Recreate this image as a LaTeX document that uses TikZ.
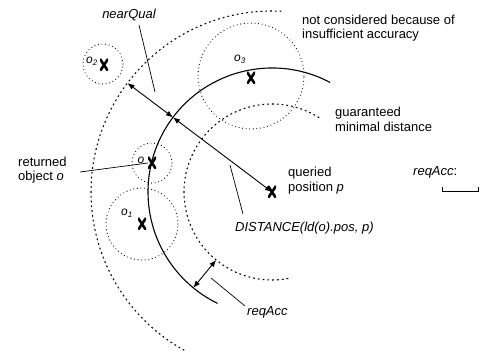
\documentclass[tikz,border=0pt]{standalone}
\usepackage{fontspec}
\setmainfont{Liberation Sans}
\usetikzlibrary{arrows.meta,calc}
\begin{document}
\begin{tikzpicture}[x=1pt,y=1pt,
  lbl/.style={font=\fontsize{13}{14.5}\selectfont, inner sep=0pt, align=left},
  ilbl/.style={inner sep=0pt, align=left, font=\fontsize{13}{14.5}\selectfont\itshape},
  olbl/.style={inner sep=0pt, font=\fontsize{12}{14}\selectfont\itshape},
  xmark/.style={minimum width=8pt, minimum height=12pt, inner sep=0pt,
    path picture={\draw[line width=2.6pt]
      (path picture bounding box.south west)--(path picture bounding box.north east)
      (path picture bounding box.north west)--(path picture bounding box.south east);}},
  ucirc/.style={circle, draw, inner sep=0pt, line width=1.15pt, line cap=round, dash pattern=on 0pt off 3.6pt},
  bigdash/.style={line width=1.05pt, dash pattern=on 1.8pt off 3pt},
  dbl/.style={{Latex[length=7pt,width=5.5pt]}-{Latex[length=7pt,width=5.5pt]}, line width=0.9pt},
  leader/.style={line width=0.7pt}
]
\useasboundingbox (0,0) rectangle (485,351);

% objects
\node[xmark] (p) at (272,159) {};
\node[xmark] (o) at (152,188) {};
\node[xmark] (o1) at (142,127) {};
\node[xmark] (o2) at (104,286) {};
\node[xmark] (o3) at (251,273) {};

% uncertainty circles
\node[ucirc, minimum size=40pt] (co) at (152,188) {};
\node[ucirc, minimum size=72pt] (co1) at (142,127) {};
\node[ucirc, minimum size=40pt] (co2) at (103,287) {};
\node[ucirc, minimum size=106pt] (co3) at (251,275) {};

% object labels
\node[olbl] (lo) at (141,191) {o};
\node[olbl] (lo1) at (127,138) {o\textsubscript{1}};
\node[olbl] (lo2) at (92,290) {o\textsubscript{2}};
\node[olbl] (lo3) at (240,292) {o\textsubscript{3}};

% arcs around p
\draw[line width=1.1pt] ($(p.center)+(62:124)$) arc[start angle=62, end angle=244, radius=124];
\draw[bigdash] ($(p.center)+(87:181)$) arc[start angle=87, end angle=241, radius=181];
\draw[bigdash] ($(p.center)+(57.6:88)$) arc[start angle=57.6, end angle=281, radius=88];

% arrows
\coordinate (nqOut) at ($(p.center)+(143:181)$);
\coordinate (nqIn) at ($(p.center)+(143:124)$);
\coordinate (raOut) at ($(p.center)+(230.6:124)$);
\coordinate (raIn) at ($(p.center)+(230.6:88)$);
\draw[dbl] (nqOut) -- (nqIn);
\draw[dbl] (nqIn) -- (p.center);
\draw[dbl] (raOut) -- (raIn);

% labels
\node[ilbl] (lnq) at (129,336) {nearQual};
\node[lbl, anchor=west] (lnc) at (302,323) {not considered because of\\insufficient accuracy};
\node[lbl, anchor=west] (lgm) at (335,231.5) {guaranteed\\minimal distance};
\node[lbl, anchor=west] (lqp) at (288,170.5) {queried\\position \textit{p}};
\node[lbl, anchor=west] (lro) at (18,181) {returned\\object \textit{o}};
\node[ilbl, anchor=west] (ldist) at (235,123) {DISTANCE(ld(o).pos, p)};
\node[ilbl, anchor=west] (lreq) at (247,39) {reqAcc};
\node[ilbl, anchor=west] (lreqk) at (413,179) {reqAcc\upshape{:}};

% leaders
\coordinate (nqA) at (139,326);
\coordinate (nqB) at (155,259);
\draw[leader] (nqA) -- (nqB);
\coordinate (roA) at (80,179);
\draw[leader] (roA) -- (o.west);
\coordinate (dA) at (230,186);
\coordinate (dB) at (243,137);
\draw[leader] (dA) -- (dB);
\coordinate (rA) at (211,73);
\coordinate (rB) at (245,45);
\draw[leader] (rA) -- (rB);

% scale bar
\coordinate (sb1) at (442,164);
\coordinate (sb2) at (442,159);
\coordinate (sb3) at (478,159);
\coordinate (sb4) at (478,164);
\draw[line width=1pt] (sb1) -- (sb2) -- (sb3) -- (sb4);
\end{tikzpicture}
\end{document}
